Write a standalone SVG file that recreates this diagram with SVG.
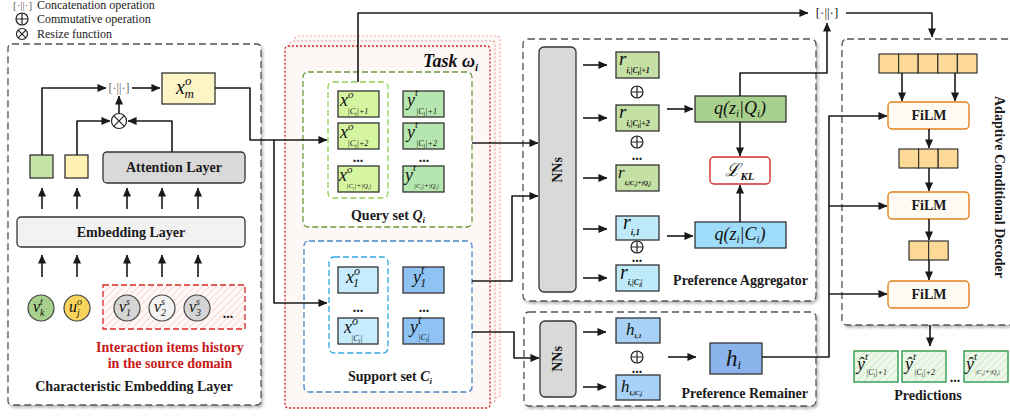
<svg xmlns="http://www.w3.org/2000/svg" width="1010" height="416" viewBox="0 0 1010 416">
<defs>
<style>
.t{font-family:"Liberation Serif","DejaVu Serif",serif;fill:#1a1a1a}
.b{font-weight:bold;font-size:14px}
.g{fill:#666}
.m{font-family:"Liberation Serif","DejaVu Serif",serif;font-style:italic;fill:#111}
.ln{fill:none;stroke:#1a1a1a;stroke-width:1.6;stroke-linejoin:round}
.ar{marker-end:url(#ah)}
.bx{stroke:#333;stroke-width:1.3}
.dash{fill:#fff;stroke:#555;stroke-width:1.3;stroke-dasharray:7 4}
.cell{fill:#fcd996;stroke:#333;stroke-width:1.2}
.film{fill:#fffaf2;stroke:#e2801e;stroke-width:1.4}
.red{fill:#c81818}
</style>
<marker id="ah" viewBox="0 0 10 10" refX="9.5" refY="5" markerWidth="9" markerHeight="9" markerUnits="userSpaceOnUse" orient="auto"><path d="M0,0.5 L10,5 L0,9.5 z" fill="#1a1a1a"/></marker>
<g id="oplus"><circle r="6" fill="#fff" stroke="#222" stroke-width="1.2"/><path d="M-6,0H6M0,-6V6" stroke="#222" stroke-width="1.2"/></g>
<g id="otimes"><circle r="7.5" fill="#fff" stroke="#222" stroke-width="1.2"/><path d="M-5.3,-5.3L5.3,5.3M-5.3,5.3L5.3,-5.3" stroke="#222" stroke-width="1.2"/></g>
<g id="otimes-s"><circle r="5.5" fill="#fff" stroke="#222" stroke-width="1.2"/><path d="M-3.9,-3.9L3.9,3.9M-3.9,3.9L3.9,-3.9" stroke="#222" stroke-width="1.2"/></g>
<filter id="sh" x="-5%" y="-5%" width="110%" height="110%"><feDropShadow dx="1.5" dy="2" stdDeviation="1.5" flood-color="#000" flood-opacity="0.3"/></filter>
<pattern id="hr" width="5" height="5" patternUnits="userSpaceOnUse" patternTransform="rotate(45)"><rect width="5" height="5" fill="#fff8f6"/><line x1="0" y1="0" x2="0" y2="5" stroke="#f6cfc8" stroke-width="1.5"/></pattern>
<pattern id="hg" width="5" height="5" patternUnits="userSpaceOnUse" patternTransform="rotate(45)"><rect width="5" height="5" fill="#eef8ea"/><line x1="0" y1="0" x2="0" y2="5" stroke="#c9e8c2" stroke-width="1.6"/></pattern>
</defs>

<!-- Legend -->
<g id="legend">
<text class="t g" x="13" y="9" font-size="11">[·||·]</text>
<text class="t" x="37" y="9" font-size="12">Concatenation operation</text>
<use href="#oplus" x="22" y="19"/>
<text class="t" x="37" y="23" font-size="12">Commutative operation</text>
<use href="#otimes-s" x="22" y="34"/>
<text class="t" x="37" y="38" font-size="12">Resize function</text>
</g>

<!-- Characteristic Embedding Layer -->
<g id="characteristic-embedding-layer">
<rect x="8" y="44" width="253" height="361" rx="4" class="dash" filter="url(#sh)"/>
<rect x="30" y="155" width="23" height="23" fill="#c5e3a6" class="bx"/>
<rect x="65" y="155" width="23" height="23" fill="#fff0b3" class="bx"/>
<rect x="103" y="152" width="142" height="31" rx="4" fill="#d9d9d9" class="bx"/>
<text class="t b" x="174" y="172" text-anchor="middle">Attention Layer</text>
<rect x="17" y="217" width="228" height="30" rx="4" fill="#f2f2f2" class="bx"/>
<text class="t b" x="131" y="237" text-anchor="middle">Embedding Layer</text>
<text class="t g" x="119" y="92" font-size="12" text-anchor="middle">[·||·]</text>
<use href="#otimes" x="119" y="121"/>
<rect x="162" y="73" width="53" height="31" fill="#fdf5c6" class="bx"/>
<text class="m" x="176" y="94" font-size="20">x<tspan font-size="13" dy="-9">o</tspan><tspan font-size="13" dx="-7" dy="13">m</tspan></text>
<rect x="103" y="285" width="142" height="44" fill="url(#hr)" stroke="#d62828" stroke-width="1.3" stroke-dasharray="6 3"/>
<circle cx="41" cy="308" r="13" fill="#a8d08d" stroke="#444" stroke-width="1.2"/>
<text class="m" x="33" y="312" font-size="16">v<tspan font-size="10" dy="-7">t</tspan><tspan font-size="10" dx="-3" dy="11">k</tspan></text>
<circle cx="77" cy="308" r="13" fill="#f9d45c" stroke="#444" stroke-width="1.2"/>
<text class="m" x="69" y="312" font-size="16">u<tspan font-size="10" dy="-7">o</tspan><tspan font-size="10" dx="-5" dy="11">j</tspan></text>
<circle cx="127" cy="308" r="13" fill="#d5d5d5" stroke="#444" stroke-width="1.2"/>
<text class="m" x="119" y="312" font-size="16">v<tspan font-size="10" dy="-7">s</tspan><tspan font-size="10" dx="-4" dy="11">1</tspan></text>
<circle cx="162" cy="308" r="13" fill="#f2f2f2" stroke="#444" stroke-width="1.2"/>
<text class="m" x="154" y="312" font-size="16">v<tspan font-size="10" dy="-7">s</tspan><tspan font-size="10" dx="-4" dy="11">2</tspan></text>
<circle cx="197" cy="308" r="13" fill="#d5d5d5" stroke="#444" stroke-width="1.2"/>
<text class="m" x="189" y="312" font-size="16">v<tspan font-size="10" dy="-7">s</tspan><tspan font-size="10" dx="-4" dy="11">3</tspan></text>
<text class="t b" x="228" y="318" text-anchor="middle">...</text>
<text class="t b red" x="170" y="352" text-anchor="middle">Interaction items history</text>
<text class="t b red" x="170" y="368" text-anchor="middle">in the source domain</text>
<text class="t b" x="134" y="391" text-anchor="middle" font-size="13.5">Characteristic Embedding Layer</text>
</g>

<!-- Task stack -->
<g id="task">
<rect x="295" y="36" width="205" height="362" rx="3" fill="#fdf7f5" stroke="#f2a9a9" stroke-width="1.2" stroke-dasharray="2 2"/>
<rect x="290" y="41" width="205" height="362" rx="3" fill="#fdf7f5" stroke="#ee9c9c" stroke-width="1.2" stroke-dasharray="2 2"/>
<rect x="285" y="46" width="205" height="362" rx="3" fill="#fdf7f5" stroke="#d81e1e" stroke-width="1.3" stroke-dasharray="2 2"/>
<text class="m" x="478" y="67" font-size="18" font-weight="bold" text-anchor="end">Task ω<tspan font-size="11" dy="4">i</tspan></text>
</g>

<g id="query-set">
<rect x="303" y="72" width="169" height="155" rx="5" fill="#fff" stroke="#6a9b3c" stroke-width="1.3" stroke-dasharray="6 3"/>
<rect x="328" y="82" width="60" height="116" rx="5" fill="#fff" stroke="#8fd14f" stroke-width="1.3" stroke-dasharray="6 3"/>
<rect x="338" y="91" width="41" height="26" fill="#d6f5a0" class="bx"/>
<rect x="338" y="123" width="41" height="26" fill="#d6f5a0" class="bx"/>
<rect x="338" y="166" width="41" height="26" fill="#d6f5a0" class="bx"/>
<rect x="403" y="91" width="41" height="26" fill="#b6e6b0" class="bx"/>
<rect x="403" y="123" width="41" height="26" fill="#b6e6b0" class="bx"/>
<rect x="403" y="166" width="41" height="26" fill="#b6e6b0" class="bx"/>
<text class="m" x="340" y="106" font-size="18">x<tspan font-size="11" dy="-8">o</tspan><tspan font-size="8" dx="-6" dy="16">|C<tspan font-size="6" dy="1.5">i</tspan><tspan dy="-1.5">|+1</tspan></tspan></text>
<text class="m" x="340" y="138" font-size="18">x<tspan font-size="11" dy="-8">o</tspan><tspan font-size="8" dx="-6" dy="16">|C<tspan font-size="6" dy="1.5">i</tspan><tspan dy="-1.5">|+2</tspan></tspan></text>
<text class="m" x="339" y="181" font-size="18">x<tspan font-size="11" dy="-8">o</tspan><tspan font-size="7" dx="-6" dy="15">|C<tspan font-size="5" dy="1.5">i</tspan><tspan dy="-1.5">|+|Q</tspan><tspan font-size="5" dy="1.5">i</tspan><tspan dy="-1.5">|</tspan></tspan></text>
<text class="m" x="407" y="106" font-size="18">y<tspan font-size="11" dy="-10">t</tspan><tspan font-size="8" dx="-2" dy="18">|C<tspan font-size="6" dy="1.5">i</tspan><tspan dy="-1.5">|+1</tspan></tspan></text>
<text class="m" x="407" y="138" font-size="18">y<tspan font-size="11" dy="-10">t</tspan><tspan font-size="8" dx="-2" dy="18">|C<tspan font-size="6" dy="1.5">i</tspan><tspan dy="-1.5">|+2</tspan></tspan></text>
<text class="m" x="405" y="181" font-size="18">y<tspan font-size="11" dy="-10">t</tspan><tspan font-size="7" dx="-2" dy="17">|C<tspan font-size="5" dy="1.5">i</tspan><tspan dy="-1.5">|+|Q</tspan><tspan font-size="5" dy="1.5">i</tspan><tspan dy="-1.5">|</tspan></tspan></text>
<text class="t b" x="358" y="162" text-anchor="middle">...</text>
<text class="t b" x="424" y="162" text-anchor="middle">...</text>
<text class="t b" x="388" y="220" text-anchor="middle">Query set <tspan font-style="italic">Q<tspan font-size="9" dy="3">i</tspan></tspan></text>
</g>

<g id="support-set">
<rect x="304" y="241" width="168" height="151" rx="5" fill="#fff" stroke="#4a86c8" stroke-width="1.3" stroke-dasharray="6 3"/>
<rect x="329" y="257" width="59" height="96" rx="5" fill="#fff" stroke="#30a8e0" stroke-width="1.3" stroke-dasharray="6 3"/>
<rect x="338" y="267" width="40" height="26" fill="#c7ecfd" class="bx"/>
<rect x="338" y="318" width="40" height="26" fill="#c7ecfd" class="bx"/>
<rect x="403" y="267" width="41" height="26" fill="#8fc3f3" class="bx"/>
<rect x="403" y="318" width="41" height="26" fill="#8fc3f3" class="bx"/>
<text class="m" x="346" y="283" font-size="18">x<tspan font-size="12" dy="-8">o</tspan><tspan font-size="12" dx="-7" dy="12">1</tspan></text>
<text class="m" x="344" y="333" font-size="18">x<tspan font-size="12" dy="-8">o</tspan><tspan font-size="8" dx="-7" dy="16">|C<tspan font-size="6" dy="1.5">i</tspan><tspan dy="-1.5">|</tspan></tspan></text>
<text class="m" x="413" y="283" font-size="18">y<tspan font-size="12" dy="-9">t</tspan><tspan font-size="12" dx="-4" dy="13">1</tspan></text>
<text class="m" x="410" y="333" font-size="18">y<tspan font-size="12" dy="-9">t</tspan><tspan font-size="8" dx="-3" dy="16">|C<tspan font-size="6" dy="1.5">i</tspan><tspan dy="-1.5">|</tspan></tspan></text>
<text class="t b" x="358" y="312" text-anchor="middle">...</text>
<text class="t b" x="424" y="312" text-anchor="middle">...</text>
<text class="t b" x="390" y="381" text-anchor="middle">Support set <tspan font-style="italic">C<tspan font-size="9" dy="3">i</tspan></tspan></text>
</g>

<!-- Preference Aggregator -->
<g id="preference-aggregator">
<rect x="523" y="39" width="293" height="262" rx="5" class="dash" filter="url(#sh)"/>
<rect x="539" y="47" width="37" height="245" rx="5" fill="#d9d9d9" class="bx"/>
<text class="t b" x="562" y="170" text-anchor="middle" transform="rotate(-90 562 170)">NNs</text>
<rect x="616" y="52" width="43" height="26" fill="#c5e0a5" class="bx"/>
<rect x="616" y="105" width="43" height="26" fill="#c5e0a5" class="bx"/>
<rect x="616" y="165" width="43" height="26" fill="#c5e0a5" class="bx"/>
<rect x="616" y="216" width="43" height="24" fill="#bfeaf9" class="bx"/>
<rect x="616" y="265" width="43" height="26" fill="#bfeaf9" class="bx"/>
<text class="m" x="619" y="65" font-size="19">r<tspan font-size="8" font-weight="bold" dy="8">i,|C<tspan font-size="6" dy="1.5">i</tspan><tspan dy="-1.5">|+1</tspan></tspan></text>
<text class="m" x="619" y="118" font-size="19">r<tspan font-size="8" font-weight="bold" dy="8">i,|C<tspan font-size="6" dy="1.5">i</tspan><tspan dy="-1.5">|+2</tspan></tspan></text>
<text class="m" x="618" y="178" font-size="17">r<tspan font-size="7" font-weight="bold" dy="7">i,|C<tspan font-size="5" dy="1.5">i</tspan><tspan dy="-1.5">|+|Q</tspan><tspan font-size="5" dy="1.5">i</tspan><tspan dy="-1.5">|</tspan></tspan></text>
<text class="m" x="623" y="229" font-size="20">r<tspan font-size="9" font-weight="bold" dy="6">i,1</tspan></text>
<text class="m" x="620" y="279" font-size="20">r<tspan font-size="8" font-weight="bold" dy="6">i,|C<tspan font-size="6" dy="1.5">i</tspan><tspan dy="-1.5">|</tspan></tspan></text>
<use href="#oplus" x="637" y="92"/>
<use href="#oplus" x="637" y="142"/>
<use href="#oplus" x="637" y="247"/>
<text class="t b" x="637" y="160" text-anchor="middle">...</text>
<text class="t b" x="637" y="262" text-anchor="middle">...</text>
<rect x="695" y="96" width="91" height="26" fill="#a9d18e" class="bx"/>
<text class="m" x="740" y="114" font-size="18" text-anchor="middle">q(z<tspan font-size="11" dy="3">i</tspan><tspan dy="-3">|Q</tspan><tspan font-size="11" dy="3">i</tspan><tspan dy="-3">)</tspan></text>
<rect x="710" y="157" width="60" height="27" rx="4" fill="#fff" stroke="#d03030" stroke-width="1.4"/>
<text class="m" x="740" y="176" font-size="18" text-anchor="middle" font-family="DejaVu Serif">ℒ<tspan font-size="11" font-weight="bold" dy="4">KL</tspan></text>
<rect x="695" y="222" width="91" height="26" fill="#9edcfa" class="bx"/>
<text class="m" x="740" y="240" font-size="18" text-anchor="middle">q(z<tspan font-size="11" dy="3">i</tspan><tspan dy="-3">|C</tspan><tspan font-size="11" dy="3">i</tspan><tspan dy="-3">)</tspan></text>
<text class="t b" x="808" y="285" text-anchor="end">Preference Aggregator</text>
</g>

<!-- Preference Remainer -->
<g id="preference-remainer">
<rect x="524" y="312" width="292" height="94" rx="5" class="dash" filter="url(#sh)"/>
<rect x="540" y="321" width="36" height="76" rx="5" fill="#d9d9d9" class="bx"/>
<text class="t b" x="562" y="359" text-anchor="middle" transform="rotate(-90 562 359)">NNs</text>
<rect x="616" y="318" width="44" height="25" fill="#a7d1f7" class="bx"/>
<rect x="616" y="375" width="44" height="25" fill="#a7d1f7" class="bx"/>
<text class="m" x="626" y="335" font-size="17">h<tspan font-size="7" font-weight="bold" dy="3">i,1</tspan></text>
<text class="m" x="621" y="392" font-size="17">h<tspan font-size="7" font-weight="bold" dy="3">i,|C<tspan font-size="5" dy="1.5">i</tspan><tspan dy="-1.5">|</tspan></tspan></text>
<use href="#oplus" x="637" y="357"/>
<text class="t b" x="637" y="373" text-anchor="middle">...</text>
<rect x="710" y="343" width="52" height="31" fill="#8bb4ec" class="bx"/>
<text class="m" x="726" y="366" font-size="23">h<tspan font-size="13" dy="3">i</tspan></text>
<text class="t b" x="808" y="398" text-anchor="end">Preference Remainer</text>
</g>

<!-- Adaptive Conditional Decoder -->
<g id="adaptive-conditional-decoder">
<rect x="842" y="39" width="180" height="286" rx="5" class="dash" filter="url(#sh)"/>
<rect x="879" y="54" width="19.6" height="19" class="cell"/>
<rect x="898.6" y="54" width="19.6" height="19" class="cell"/>
<rect x="918.2" y="54" width="19.6" height="19" class="cell"/>
<rect x="937.8" y="54" width="19.6" height="19" class="cell"/>
<rect x="957.4" y="54" width="19.6" height="19" class="cell"/>
<rect x="888" y="102" width="81" height="27" rx="4" class="film"/>
<text class="t b" x="929" y="120" text-anchor="middle" font-size="13">FiLM</text>
<rect x="899" y="149" width="19.6" height="19" class="cell"/>
<rect x="918.6" y="149" width="19.6" height="19" class="cell"/>
<rect x="938.2" y="149" width="19.6" height="19" class="cell"/>
<rect x="888" y="192" width="81" height="27" rx="4" class="film"/>
<text class="t b" x="929" y="210" text-anchor="middle" font-size="13">FiLM</text>
<rect x="909" y="241" width="19.6" height="19" class="cell"/>
<rect x="928.6" y="241" width="19.6" height="19" class="cell"/>
<rect x="888" y="281" width="81" height="27" rx="4" class="film"/>
<text class="t b" x="929" y="299" text-anchor="middle" font-size="13">FiLM</text>
<text class="t b" x="995" y="187" text-anchor="middle" transform="rotate(90 995 187)">Adaptive Conditional Decoder</text>
</g>

<!-- Predictions -->
<g id="predictions">
<rect x="854" y="351" width="44" height="31" fill="url(#hg)" stroke="#2e9a4a" stroke-width="1.4"/>
<rect x="902" y="351" width="44" height="31" fill="url(#hg)" stroke="#2e9a4a" stroke-width="1.4"/>
<rect x="964" y="351" width="44" height="31" fill="url(#hg)" stroke="#2e9a4a" stroke-width="1.4"/>
<text class="m" x="857" y="370" font-size="18">ŷ<tspan font-size="11" dy="-10">t</tspan><tspan font-size="8" dx="-2" dy="15">|C<tspan font-size="6" dy="1.5">i</tspan><tspan dy="-1.5">|+1</tspan></tspan></text>
<text class="m" x="905" y="370" font-size="18">ŷ<tspan font-size="11" dy="-10">t</tspan><tspan font-size="8" dx="-2" dy="15">|C<tspan font-size="6" dy="1.5">i</tspan><tspan dy="-1.5">|+2</tspan></tspan></text>
<text class="m" x="966" y="370" font-size="18">ŷ<tspan font-size="11" dy="-10">t</tspan><tspan font-size="7" dx="-2" dy="14">|C<tspan font-size="5" dy="1.5">i</tspan><tspan dy="-1.5">|+|Q</tspan><tspan font-size="5" dy="1.5">i</tspan><tspan dy="-1.5">|</tspan></tspan></text>
<text class="t b" x="955" y="382" text-anchor="middle">...</text>
<text class="t b" x="928" y="400" text-anchor="middle">Predictions</text>
</g>

<!-- Connectors -->
<g id="connectors">
<path class="ln ar" d="M42,155 V88 H106"/>
<path class="ln ar" d="M132,88 H160"/>
<path class="ln ar" d="M77,155 V121 H110"/>
<path class="ln ar" d="M172,152 V121 H128"/>
<path class="ln ar" d="M119,113 V96"/>
<path class="ln ar" d="M42,209 V188"/>
<path class="ln ar" d="M77,209 V188"/>
<path class="ln ar" d="M127,209 V188"/>
<path class="ln ar" d="M162,209 V188"/>
<path class="ln ar" d="M198,209 V188"/>
<path class="ln ar" d="M42,277 V255"/>
<path class="ln ar" d="M77,277 V255"/>
<path class="ln ar" d="M127,277 V255"/>
<path class="ln ar" d="M162,277 V255"/>
<path class="ln ar" d="M198,277 V255"/>
<path class="ln ar" d="M215,88 H250 V140 H327"/>
<path class="ln ar" d="M274,140 V303 H327"/>
<path class="ln ar" d="M358,82 V13 H808"/>
<text class="t" x="827" y="17" font-size="13" text-anchor="middle">[·||·]</text>
<path class="ln ar" d="M846,13 H932 V37"/>
<path class="ln ar" d="M740,96 V73 H827 V23"/>
<path class="ln ar" d="M472,143 H538"/>
<path class="ln ar" d="M472,281 H512 V196 H538"/>
<path class="ln ar" d="M472,332 H514 V358 H539"/>
<path class="ln ar" d="M583,65 H607"/>
<path class="ln ar" d="M583,118 H607"/>
<path class="ln ar" d="M583,178 H607"/>
<path class="ln ar" d="M583,229 H607"/>
<path class="ln ar" d="M583,278 H607"/>
<path class="ln ar" d="M667,109 H693"/>
<path class="ln ar" d="M667,236 H693"/>
<path class="ln ar" d="M740,122 V156"/>
<path class="ln ar" d="M740,222 V185"/>
<path class="ln ar" d="M583,332 H606"/>
<path class="ln ar" d="M583,387 H606"/>
<path class="ln ar" d="M668,357 H696"/>
<path class="ln ar" d="M762,357 H829 V116 H887"/>
<path class="ln ar" d="M829,206 H887"/>
<path class="ln ar" d="M829,294 H887"/>
<path class="ln ar" d="M902,73 V101"/>
<path class="ln ar" d="M955,73 V101"/>
<path class="ln ar" d="M929,129 V148"/>
<path class="ln ar" d="M929,168 V191"/>
<path class="ln ar" d="M929,219 V240"/>
<path class="ln ar" d="M929,260 V280"/>
<path class="ln ar" d="M930,325 V346"/>
</g>
</svg>
